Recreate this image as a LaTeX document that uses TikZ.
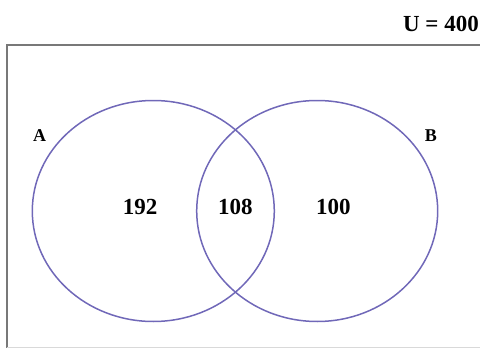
\documentclass[tikz,border=0pt]{standalone}
\usepackage{fontspec}
\setmainfont{Liberation Serif}
\definecolor{setline}{RGB}{112,104,184}
\definecolor{frame}{RGB}{120,120,120}
\begin{document}
\begin{tikzpicture}[x=1pt,y=-1pt,
  setcircle/.style={draw=setline,line width=1.5pt},
  count/.style={font=\bfseries\fontsize{23}{26}\selectfont,inner sep=0pt},
  setname/.style={font=\bfseries\fontsize{18}{20}\selectfont,inner sep=0pt}]
  \useasboundingbox (0,0) rectangle (480,348);
  \clip (0,0) rectangle (480,348);
  % universe frame
  \draw[frame,line width=2pt] (6.5,348) -- (6.5,45) -- (482,45);
  \draw[black!15,line width=1pt] (6.5,347) -- (482,347);
  \node[count,anchor=base east] (U) at (479,31) {U = 400};
  % the two sets
  \draw[setcircle] (153.3,211) ellipse [x radius=121, y radius=110.5];
  \draw[setcircle] (317.2,211) ellipse [x radius=120.5, y radius=110.5];
  \node[setname] (A) at (39.5,135.5) {A};
  \node[setname] (B) at (431,135.5) {B};
  \node[count] (onlyA) at (140,206.7) {192};
  \node[count] (both) at (235.3,206.7) {108};
  \node[count] (onlyB) at (333.3,206.7) {100};
\end{tikzpicture}
\end{document}
